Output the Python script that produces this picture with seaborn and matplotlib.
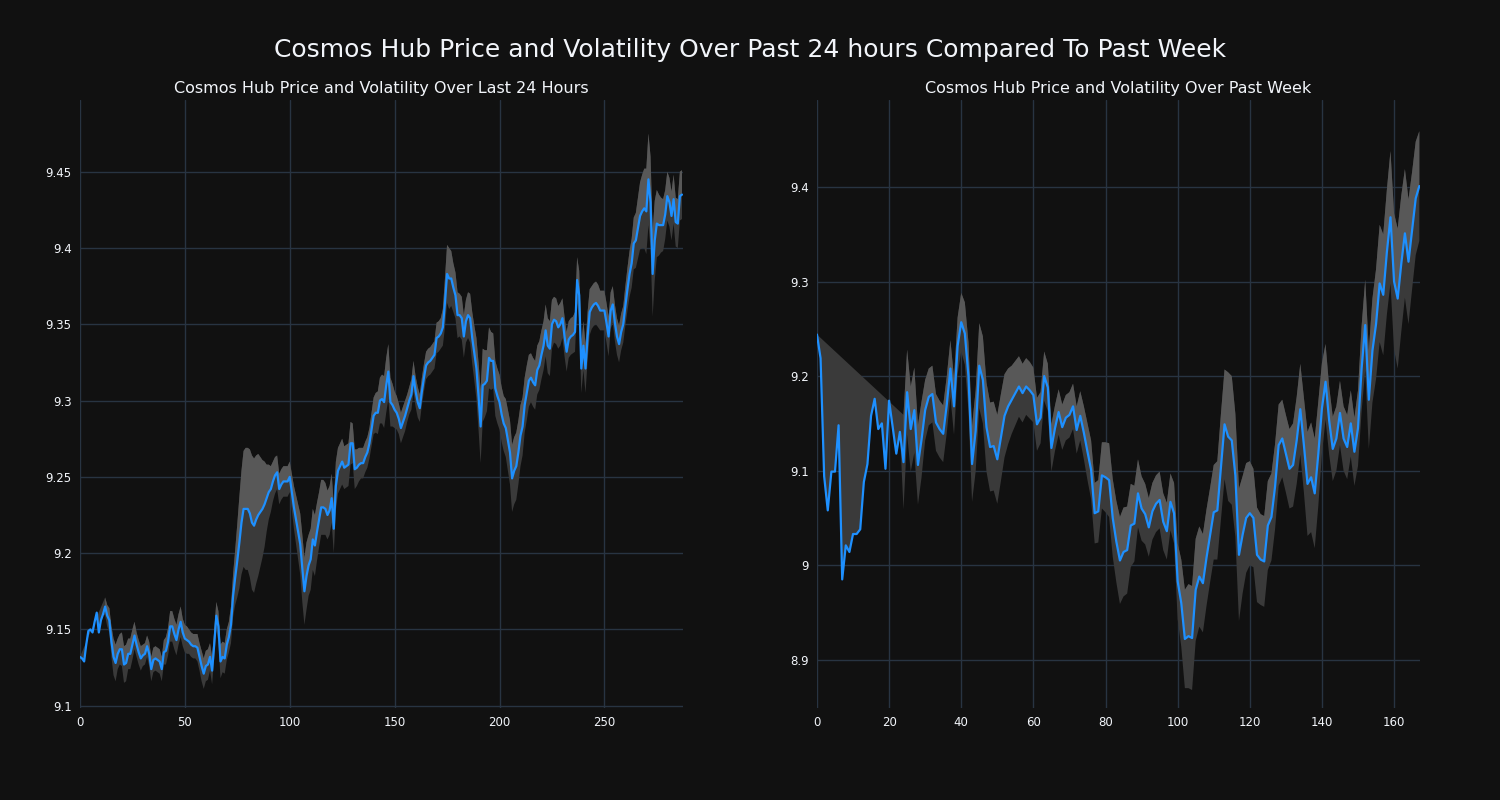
import numpy as np
import pandas as pd
import matplotlib
matplotlib.use("Agg")
import matplotlib.pyplot as plt
from matplotlib.ticker import FuncFormatter
import seaborn as sns

nan = np.nan

# Price over the last 24 hours (5 minute steps)
day_price = [
    9.132, 9.131, 9.129, 9.140, 9.149, 9.150, 9.148, 9.155, 9.161, 9.148, 9.156, 9.160,
    9.165, 9.159, 9.156, 9.142, 9.132, 9.128, 9.134, 9.137, 9.137, 9.127, 9.128, 9.134,
    9.134, 9.140, 9.146, 9.140, 9.135, 9.131, 9.133, 9.134, 9.139, 9.134, 9.124, 9.130,
    9.131, 9.130, 9.129, 9.124, 9.135, 9.136, 9.142, 9.152, 9.152, 9.147, 9.143, 9.150,
    9.155, 9.148, 9.144, 9.143, 9.142, 9.140, 9.139, 9.139, 9.138, 9.132, 9.126, 9.121,
    9.126, 9.127, 9.132, 9.123, 9.140, 9.159, 9.152, 9.129, 9.132, 9.131, 9.140, 9.145,
    9.153, 9.172, 9.184, 9.195, 9.207, 9.220, 9.229, 9.229, 9.229, 9.226, 9.220, 9.218,
    9.222, 9.225, 9.227, 9.229, 9.232, 9.236, 9.240, 9.242, 9.247, 9.251, 9.253, 9.242,
    9.245, 9.247, 9.247, 9.247, 9.250, 9.240, 9.230, 9.222, 9.214, 9.206, 9.190, 9.175,
    9.185, 9.192, 9.196, 9.209, 9.205, 9.214, 9.222, 9.230, 9.230, 9.229, 9.225, 9.228,
    9.236, 9.216, 9.244, 9.254, 9.257, 9.260, 9.256, 9.257, 9.258, 9.272, 9.272, 9.255,
    9.256, 9.258, 9.259, 9.259, 9.263, 9.266, 9.272, 9.281, 9.290, 9.292, 9.292, 9.300,
    9.301, 9.299, 9.310, 9.319, 9.299, 9.297, 9.294, 9.292, 9.288, 9.282, 9.286, 9.290,
    9.295, 9.300, 9.304, 9.316, 9.306, 9.299, 9.295, 9.306, 9.315, 9.323, 9.325, 9.326,
    9.328, 9.330, 9.341, 9.342, 9.344, 9.348, 9.364, 9.383, 9.380, 9.380, 9.374, 9.369,
    9.356, 9.356, 9.354, 9.342, 9.352, 9.356, 9.354, 9.341, 9.331, 9.321, 9.303, 9.283,
    9.310, 9.311, 9.313, 9.328, 9.326, 9.326, 9.308, 9.303, 9.299, 9.291, 9.285, 9.282,
    9.274, 9.266, 9.249, 9.254, 9.257, 9.266, 9.277, 9.283, 9.297, 9.305, 9.313, 9.315,
    9.312, 9.310, 9.320, 9.323, 9.330, 9.336, 9.346, 9.336, 9.334, 9.350, 9.353, 9.352,
    9.348, 9.350, 9.354, 9.342, 9.332, 9.340, 9.342, 9.343, 9.345, 9.379, 9.369, 9.321,
    9.336, 9.321, 9.342, 9.358, 9.361, 9.363, 9.364, 9.362, 9.359, 9.359, 9.359, 9.351,
    9.342, 9.359, 9.363, 9.351, 9.342, 9.337, 9.345, 9.350, 9.362, 9.373, 9.383, 9.390,
    9.403, 9.405, 9.413, 9.421, 9.424, 9.426, 9.424, 9.445, 9.430, 9.383, 9.405, 9.416,
    9.415, 9.415, 9.415, 9.422, 9.434, 9.430, 9.421, 9.432, 9.417, 9.416, 9.434, 9.435,
]

# Rolling volatility (band half width) over the last 24 hours
day_vol = [
    0, nan, nan, nan, nan, nan, nan, nan, nan, nan, nan, nan,
    .006, .007, .008, .010, .012, .012, .010, .010, .011, .012, .012, .010,
    .010, .010, .009, .008, .008, .008, .007, .007, .007, .008, .008, .008,
    .008, .008, .008, .008, .008, .009, .009, .010, .010, .010, .010, .010,
    .010, .009, .009, .009, .008, .008, .008, .008, .009, .009, .010, .010,
    .010, .010, .009, .009, .009, .009, .010, .011, .010, .010, .010, .010,
    .012, .014, .018, .024, .030, .034, .038, .040, .040, .042, .044, .044,
    .042, .040, .036, .032, .028, .022, .018, .015, .013, .012, .011, .010,
    .010, .010, .010, .010, .010, .012, .014, .016, .018, .020, .022, .022,
    .022, .020, .020, .020, .020, .019, .018, .018, .018, .017, .016, .016,
    .016, .016, .016, .015, .015, .015, .014, .014, .014, .014, .013, .013,
    .012, .011, .010, .010, .010, .010, .010, .011, .012, .013, .014, .015,
    .016, .017, .018, .018, .016, .014, .012, .011, .010, .010, .010, .010,
    .009, .009, .010, .010, .010, .010, .009, .009, .009, .009, .009, .009,
    .009, .009, .010, .010, .010, .012, .016, .019, .020, .018, .016, .015,
    .015, .014, .014, .014, .014, .015, .016, .017, .018, .020, .022, .024,
    .024, .022, .020, .020, .019, .018, .018, .018, .018, .018, .018, .019,
    .020, .021, .022, .022, .022, .021, .020, .019, .018, .018, .017, .016,
    .016, .016, .016, .016, .016, .016, .017, .018, .018, .016, .015, .015,
    .014, .014, .013, .013, .013, .012, .012, .012, .013, .015, .016, .016,
    .016, .016, .016, .015, .014, .014, .014, .014, .013, .013, .013, .013,
    .013, .012, .012, .012, .012, .012, .012, .012, .013, .014, .015, .016,
    .017, .018, .020, .022, .024, .026, .028, .030, .030, .028, .026, .022,
    .020, .018, .017, .016, .016, .016, .016, .016, .016, .016, .016, .016,
]

# Price over the past week (hourly)
week_price = [
    9.244, 9.219, 9.094, 9.058, 9.099, 9.099, 9.148, 8.985, 9.021, 9.014,
    9.033, 9.033, 9.038, 9.088, 9.107, 9.158, 9.176, 9.144, 9.150, 9.102,
    9.174, 9.146, 9.118, 9.141, 9.109, 9.183, 9.144, 9.164, 9.106, 9.133,
    9.164, 9.178, 9.181, 9.151, 9.144, 9.139, 9.170, 9.208, 9.168, 9.232,
    9.257, 9.245, 9.200, 9.107, 9.142, 9.211, 9.196, 9.146, 9.125, 9.126,
    9.112, 9.135, 9.158, 9.168, 9.175, 9.182, 9.189, 9.182, 9.189, 9.185,
    9.180, 9.149, 9.156, 9.200, 9.188, 9.124, 9.145, 9.162, 9.146, 9.156,
    9.159, 9.168, 9.143, 9.158, 9.140, 9.120, 9.101, 9.055, 9.057, 9.095,
    9.093, 9.090, 9.050, 9.025, 9.005, 9.014, 9.016, 9.042, 9.044, 9.076,
    9.060, 9.054, 9.040, 9.057, 9.065, 9.069, 9.046, 9.036, 9.067, 9.055,
    8.983, 8.960, 8.922, 8.925, 8.923, 8.974, 8.988, 8.981, 9.008, 9.032,
    9.056, 9.058, 9.104, 9.149, 9.136, 9.132, 9.095, 9.011, 9.032, 9.050,
    9.055, 9.050, 9.011, 9.006, 9.004, 9.042, 9.051, 9.083, 9.127, 9.134,
    9.118, 9.102, 9.106, 9.132, 9.165, 9.127, 9.086, 9.093, 9.076, 9.118,
    9.166, 9.194, 9.153, 9.123, 9.134, 9.161, 9.134, 9.125, 9.150, 9.120,
    9.145, 9.208, 9.254, 9.175, 9.227, 9.255, 9.298, 9.286, 9.331, 9.368,
    9.300, 9.282, 9.319, 9.351, 9.321, 9.354, 9.388, 9.401,
]

# Rolling volatility (band half width) over the past week
week_vol = [
    0, nan, nan, nan, nan, nan, nan, nan, nan, nan,
    nan, nan, nan, nan, nan, nan, nan, nan, nan, nan,
    nan, nan, nan, nan, .050, .045, .045, .045, .042, .040,
    .032, .030, .030, .030, .030, .030, .030, .030, .030, .030,
    .031, .033, .036, .040, .043, .045, .046, .047, .047, .047,
    .047, .046, .044, .040, .036, .034, .032, .031, .030, .030,
    .029, .028, .027, .026, .025, .025, .024, .024, .024, .024,
    .024, .024, .025, .026, .028, .030, .031, .032, .033, .035,
    .037, .039, .041, .043, .046, .047, .046, .044, .040, .036,
    .034, .032, .031, .030, .030, .030, .030, .030, .030, .032,
    .040, .046, .052, .055, .055, .054, .053, .052, .051, .050,
    .050, .052, .056, .058, .068, .068, .065, .070, .062, .058,
    .055, .052, .050, .048, .048, .047, .046, .045, .043, .041,
    .041, .042, .044, .046, .048, .050, .055, .058, .058, .055,
    .048, .040, .036, .034, .034, .034, .034, .034, .035, .036,
    .040, .045, .048, .052, .055, .058, .062, .064, .066, .070,
    .072, .074, .072, .068, .066, .062, .060, .058,
]

BG = "#111111"
GRID = "#283442"
FG = "#f2f5fa"
LINE = "#1e90ff"

sns.set_style("dark", {"axes.facecolor": BG, "figure.facecolor": BG,
                       "grid.color": GRID, "axes.grid": True})
plt.rcParams["font.family"] = ["DejaVu Sans"]


def draw(ax, price, vol, title, ylim, yticks, xticks, xmax):
    df = pd.DataFrame({"t": np.arange(len(price)), "price": price, "vol": vol})
    upper = (df["price"] + df["vol"])
    lower = df["price"] - df["vol"].fillna(0)
    ok = upper.notna()
    # whole band as one polygon (missing volatility values are skipped on the top edge)
    poly_x = np.concatenate([df["t"][ok], df["t"][::-1]])
    poly_y = np.concatenate([upper[ok], lower[::-1]])
    ax.fill(poly_x, poly_y, color="#3a3a3a", lw=0, zorder=1)
    # lighter half above the price
    ax.fill_between(df["t"], df["price"], upper, color="#585858", lw=0, zorder=2)
    sns.lineplot(data=df, x="t", y="price", ax=ax, color=LINE, lw=1.6, zorder=3)

    ax.set_xlim(0, xmax)
    ax.set_ylim(*ylim)
    ax.set_xticks(xticks)
    ax.set_yticks(yticks)
    ax.yaxis.set_major_formatter(FuncFormatter(lambda v, p: f"{v:g}"))
    ax.grid(True, color=GRID, lw=1)
    ax.set_axisbelow(True)
    for s in ax.spines.values():
        s.set_visible(False)
    ax.tick_params(colors=FG, labelsize=8.5, length=0, pad=6)
    ax.set_xlabel("")
    ax.set_ylabel("")
    ax.set_title(title, color=FG, fontsize=11.5, pad=5)


fig, axes = plt.subplots(1, 2, figsize=(15, 8), dpi=100)
fig.subplots_adjust(left=0.0533, right=0.9467, bottom=0.115, top=0.875, wspace=0.222)

draw(axes[0], day_price, day_vol, "Cosmos Hub Price and Volatility Over Last 24 Hours",
     (9.0985, 9.497), [9.1, 9.15, 9.2, 9.25, 9.3, 9.35, 9.4, 9.45],
     [0, 50, 100, 150, 200, 250], 287.5)
draw(axes[1], week_price, week_vol, "Cosmos Hub Price and Volatility Over Past Week",
     (8.849, 9.492), [8.9, 9.0, 9.1, 9.2, 9.3, 9.4],
     [0, 20, 40, 60, 80, 100, 120, 140, 160], 167.2)

fig.suptitle("Cosmos Hub Price and Volatility Over Past 24 hours Compared To Past Week",
             color=FG, fontsize=18, y=0.9375, va="center")

fig.savefig("out.png", dpi=100, facecolor=BG)
